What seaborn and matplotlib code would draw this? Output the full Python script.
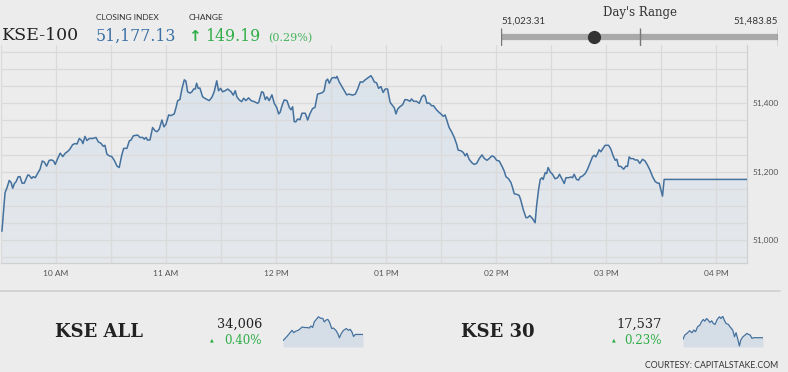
import numpy as np
import matplotlib
matplotlib.use("Agg")
import matplotlib.pyplot as plt
import seaborn as sns
from matplotlib.colors import LinearSegmentedColormap

# KSE-100 intraday, minutes after 09:30
minutes = [0.5, 2.2, 3.3, 4.5, 5.5, 6.4, 7.3, 8.2, 9.4, 10.4, 11.5, 12.7, 14.6, 15.4, 16.7, 17.6, 18.7, 20.0,
           21.3, 22.5, 23.6, 24.9, 26.3, 27.7, 28.7, 29.6, 30.9, 32.3, 33.7, 35.1, 36.4, 37.6, 39.1, 40.4, 41.5,
           42.7, 44.0, 44.7, 45.8, 46.9, 48.2, 50.0, 51.8, 53.1, 54.5, 55.8, 56.7, 57.8, 59.1, 60.4, 61.8, 63.3,
           64.5, 65.8, 66.9, 68.7, 70.0, 70.9, 72.2, 74.6, 75.8, 77.3, 78.2, 79.1, 80.0, 81.3, 82.7, 84.2, 85.1,
           86.3, 87.8, 88.9, 90.0, 91.5, 92.7, 94.5, 95.5, 96.4, 97.6, 98.7, 100.0, 100.9, 101.8, 103.1, 104.2,
           105.1, 106.0, 106.7, 107.6, 108.5, 110.0, 111.8, 113.6, 115.1, 116.3, 117.7, 118.7, 119.8, 120.9,
           122.3, 123.7, 125.5, 126.7, 127.8, 128.7, 130.0, 131.3, 132.4, 133.6, 135.1, 136.4, 138.2, 140.0,
           140.6, 142.2, 143.1, 144.2, 145.1, 146.3, 147.8, 149.1, 150.4, 151.5, 152.3, 153.3, 154.5, 156.0,
           157.3, 158.2, 159.1, 160.0, 160.9, 161.8, 163.1, 164.2, 166.0, 167.3, 168.5, 170.0, 171.3, 172.7,
           174.0, 175.5, 176.3, 177.3, 178.2, 179.1, 180.5, 181.8, 182.7, 183.3, 184.5, 186.0, 187.3, 188.6,
           190.0, 191.8, 193.3, 194.6, 196.0, 197.3, 198.7, 200.0, 201.8, 202.7, 203.6, 204.9, 206.0, 207.3,
           208.5, 209.6, 210.9, 212.3, 213.7, 214.5, 215.5, 216.4, 217.6, 219.1, 220.4, 221.8, 223.1, 224.0,
           225.1, 226.7, 228.2, 229.5, 230.6, 231.4, 232.4, 233.6, 234.9, 236.0, 237.3, 238.7, 240.0, 241.3,
           242.3, 243.3, 244.5, 246.0, 247.3, 248.6, 249.4, 250.9, 252.2, 253.3, 254.2, 255.4, 256.9, 258.2,
           259.5, 260.9, 262.4, 263.6, 265.1, 266.3, 267.8, 269.1, 270.4, 271.8, 273.3, 274.5, 275.5, 276.9,
           278.2, 279.1, 280.0, 281.5, 282.7, 283.6, 284.9, 286.4, 287.3, 288.5, 290.0, 291.4, 292.2, 293.3,
           294.2, 295.1, 295.8, 296.9, 297.7, 298.5, 299.6, 300.9, 302.3, 303.7, 304.7, 306.0, 307.3, 308.2,
           309.7, 310.9, 311.8, 312.7, 314.0, 315.1, 316.0, 317.3, 318.7, 320.0, 321.3, 322.7, 323.6, 324.5,
           325.5, 326.3, 327.3, 328.2, 329.6, 331.5, 332.7, 334.0, 335.1, 336.0, 336.9, 338.2, 339.7, 340.9,
           341.8, 342.7, 343.6, 344.9, 346.0, 347.3, 348.5, 350.0, 351.4, 352.7, 354.0, 355.5, 356.9, 358.2,
           359.1, 360.9, 361.8, 362.7, 407.0]
kse100 = [51025, 51138, 51153, 51174, 51168, 51151, 51165, 51170, 51185, 51185, 51166, 51166, 51190, 51189,
          51180, 51185, 51182, 51195, 51207, 51231, 51228, 51216, 51233, 51234, 51231, 51221, 51238, 51254,
          51244, 51254, 51259, 51266, 51279, 51282, 51281, 51297, 51291, 51282, 51303, 51291, 51297, 51297,
          51300, 51287, 51283, 51274, 51277, 51251, 51246, 51244, 51233, 51216, 51212, 51246, 51268, 51268,
          51290, 51292, 51305, 51307, 51300, 51300, 51295, 51300, 51292, 51293, 51329, 51319, 51317, 51324,
          51351, 51331, 51339, 51366, 51364, 51369, 51388, 51408, 51411, 51442, 51469, 51465, 51434, 51430,
          51434, 51442, 51442, 51459, 51444, 51445, 51419, 51413, 51408, 51418, 51434, 51466, 51437, 51444,
          51434, 51437, 51442, 51434, 51424, 51437, 51419, 51410, 51405, 51415, 51408, 51416, 51408, 51405,
          51400, 51403, 51434, 51432, 51411, 51419, 51408, 51425, 51400, 51388, 51369, 51374, 51393, 51410,
          51408, 51388, 51381, 51390, 51346, 51346, 51354, 51352, 51371, 51371, 51351, 51369, 51385, 51388,
          51427, 51429, 51432, 51437, 51466, 51471, 51459, 51474, 51476, 51474, 51479, 51463, 51449, 51437,
          51425, 51427, 51424, 51427, 51442, 51463, 51462, 51469, 51474, 51481, 51474, 51463, 51460, 51444,
          51449, 51432, 51442, 51442, 51403, 51393, 51388, 51369, 51383, 51390, 51396, 51411, 51410, 51406,
          51413, 51406, 51406, 51400, 51418, 51424, 51421, 51400, 51401, 51393, 51393, 51383, 51375, 51369,
          51362, 51366, 51349, 51329, 51315, 51300, 51280, 51263, 51261, 51256, 51246, 51253, 51236, 51226,
          51221, 51224, 51238, 51249, 51239, 51233, 51238, 51246, 51243, 51233, 51231, 51216, 51202, 51185,
          51179, 51168, 51153, 51135, 51133, 51130, 51116, 51089, 51065, 51065, 51071, 51062, 51050, 51099,
          51148, 51177, 51182, 51177, 51197, 51194, 51212, 51199, 51192, 51179, 51182, 51192, 51179, 51165,
          51182, 51182, 51184, 51182, 51192, 51177, 51175, 51184, 51187, 51194, 51207, 51224, 51243, 51248,
          51243, 51253, 51264, 51258, 51266, 51277, 51277, 51266, 51246, 51233, 51236, 51216, 51215, 51207,
          51216, 51215, 51243, 51238, 51238, 51234, 51234, 51224, 51236, 51231, 51219, 51205, 51185, 51171,
          51166, 51166, 51128, 51177, 51177, 51177]

hour_ticks = [30, 90, 150, 210, 270, 330, 390]
hour_labels = ["10 AM", "11 AM", "12 PM", "01 PM", "02 PM", "03 PM", "04 PM"]
price_ticks = [51000, 51200, 51400]

closing = 51177.13
change = 149.19
change_pct = 0.29
day_low = 51023.31
day_high = 51483.85

# sparklines
all_min = [0, 9, 20, 34, 46, 55, 65, 77, 89, 97, 111, 123, 133, 142, 151, 159, 171, 180, 192, 202, 210, 219,
           228, 236, 248, 256, 269, 279, 287, 296, 308, 322, 333, 342, 351, 359, 368, 380, 407]
all_vals = [33982, 33989, 33998, 34011, 34022, 34013, 34019, 34022, 34029, 34035, 34033, 34033, 34031, 34039,
            34033, 34055, 34066, 34075, 34069, 34069, 34055, 34062, 34065, 34055, 34029, 34031, 34022, 34009,
            33993, 34009, 34022, 34029, 34022, 34026, 34015, 33998, 34006, 34006, 34006]
k30_min = [0, 9, 20, 34, 46, 55, 64, 74, 86, 94, 103, 111, 120, 128, 137, 146, 154, 163, 174, 185, 193, 202,
           210, 219, 231, 239, 253, 262, 270, 279, 287, 294, 305, 316, 325, 333, 342, 351, 359, 407]
k30_vals = [17532, 17545, 17550, 17558, 17552, 17560, 17555, 17570, 17575, 17585, 17592, 17587, 17595, 17590,
            17583, 17588, 17580, 17577, 17592, 17600, 17595, 17602, 17590, 17580, 17577, 17570, 17560, 17540,
            17552, 17532, 17512, 17530, 17540, 17545, 17550, 17547, 17545, 17535, 17537, 17537]
tiles = [("KSE ALL", "34,006", "0.40%"), ("KSE 30", "17,537", "0.23%")]

BG = "#ececec"
GRID = "#dadada"
LINE = "#44719e"
GREEN = "#2fae48"
SERIF = "DejaVu Serif"
SANS = "Lato"

sns.set_style("white")
plt.rcParams["font.family"] = [SANS, "DejaVu Sans"]

W, H = 788, 372
fig = plt.figure(figsize=(W / 100, H / 100), dpi=100)
fig.patch.set_facecolor(BG)


def box(x0, y0, x1, y1):
    return [x0 / W, 1 - y1 / H, (x1 - x0) / W, (y1 - y0) / H]


def px(x, y):
    return x / W, 1 - y / H


# main chart
ax = fig.add_axes(box(1, 45, 747, 263))
ax.set_facecolor(BG)
ymin, ymax = 50932, 51571
xmin, xmax = 0, 407
poly = ax.fill_between(minutes, kse100, ymin, color="none", linewidth=0)
cmap = LinearSegmentedColormap.from_list("fade", ["#e5e8eb", "#d9e2ec"])
im = ax.imshow(np.linspace(0, 1, 256).reshape(-1, 1), aspect="auto", cmap=cmap, origin="lower",
               extent=[xmin, xmax, ymin, ymax], zorder=1)
im.set_clip_path(poly.get_paths()[0], transform=ax.transData)
sns.lineplot(x=minutes, y=kse100, ax=ax, color=LINE, linewidth=1.1, zorder=3)
ax.set_xlim(xmin, xmax)
ax.set_ylim(ymin, ymax)
ax.set_xticks(hour_ticks)
ax.set_xticklabels(hour_labels)
ax.set_xticks(np.arange(0, 407, 30), minor=True)
ax.set_yticks(price_ticks)
ax.set_yticklabels([f"{v:,}" for v in price_ticks])
ax.set_yticks(np.arange(50950, 51571, 50), minor=True)
ax.yaxis.tick_right()
ax.grid(True, which="both", color=GRID, linewidth=0.9)
ax.set_axisbelow(False)
ax.tick_params(which="both", length=0, labelsize=6, colors="#555555", pad=5)
ax.tick_params(axis="y", pad=4)
for side in ["top", "left"]:
    ax.spines[side].set_visible(False)
for side in ["right", "bottom"]:
    ax.spines[side].set_color("#d0d0d0")
    ax.spines[side].set_linewidth(0.9)
ax.set_xlabel("")
ax.set_ylabel("")

# header
fig.text(*px(2, 40), "KSE-100", family=SERIF, fontsize=12.5, color="#222222")
fig.text(*px(96, 20), "CLOSING INDEX", fontsize=6, color="#333333")
fig.text(*px(96, 41), f"{closing:,.2f}", family=SERIF, fontsize=11.3, color="#3a6ea5")
fig.text(*px(189, 20), "CHANGE", fontsize=6, color="#333333")
fig.text(*px(188, 41), "\u2191", family="DejaVu Sans", fontsize=11, fontweight="bold", color=GREEN)
fig.text(*px(205, 41), f"{change:.2f}", family=SERIF, fontsize=11.3, color=GREEN)
fig.text(*px(268, 41), f"({change_pct:.2f}%)", family=SERIF, fontsize=8, color="#45b35a")

# day's range
fig.text(*px(640, 16), "Day's Range", family=SERIF, fontsize=8.5, color="#333333", ha="center")
fig.text(*px(501, 24), f"{day_low:,.2f}", fontsize=7, color="#333333")
fig.text(*px(778, 24), f"{day_high:,.2f}", fontsize=7, color="#333333", ha="right")
rax = fig.add_axes(box(501, 28, 778, 46))
rax.set_xlim(day_low, day_high)
rax.set_ylim(-1, 1)
rax.axis("off")
rax.hlines(0, day_low, day_high, color="#a9a9a9", linewidth=4.5)
mid = (day_low + day_high) / 2
rax.vlines([day_low, mid, day_high], -0.95, 1, color="#777777", linewidth=1)
rax.plot([closing], [0], "o", color="#333333", markersize=8.5, zorder=5)

# separator
fig.add_artist(plt.Line2D([0, 780 / W], [1 - 291 / H] * 2, color="#cfcfcf", linewidth=1.2))

# bottom tiles
spark_data = [(all_min, all_vals, (33957, 34080)), (k30_min, k30_vals, (17509, 17604))]
offsets = [0, 400]
for (name, value, pct), (sx, sy, lim), dx in zip(tiles, spark_data, offsets):
    fig.text(*px(55 + dx + (6 if dx else 0), 337), name, family=SERIF, fontsize=13, fontweight="bold",
             color="#222222")
    fig.text(*px(262 + dx, 327.5), value, family=SERIF, fontsize=9.3, color="#222222", ha="right")
    fig.text(*px(262 + dx, 343.5), pct, family=SERIF, fontsize=8.6, color=GREEN, ha="right")
    fig.text(*px(210 + dx + (2 if dx else 0), 341), "\u25b2", family="DejaVu Sans", fontsize=3.5, color=GREEN)
    sax = fig.add_axes(box(283 + dx, 315.5, 363 + dx, 347))
    sax.fill_between(sx, sy, lim[0], color="#d5dee7", linewidth=0)
    sns.lineplot(x=sx, y=sy, ax=sax, color=LINE, linewidth=0.9)
    sax.set_xlim(0, 407)
    sax.set_ylim(*lim)
    sax.axis("off")

fig.text(*px(778, 368), "COURTESY: CAPITALSTAKE.COM", fontsize=6.3, color="#333333", ha="right")

fig.savefig("out.png", dpi=100, facecolor=BG)
